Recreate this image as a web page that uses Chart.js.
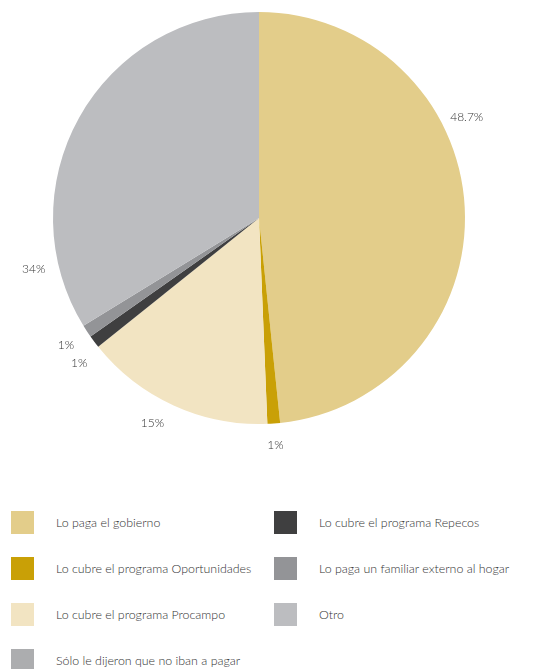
<!DOCTYPE html>
<html>
<head>
<meta charset="utf-8">
<script src="https://cdn.jsdelivr.net/npm/chart.js@4.4.0/dist/chart.umd.min.js"></script>
<style>
  body { margin: 0; background: #fff; font-family: Lato, "Open Sans", sans-serif; }
  #wrap { position: relative; width: 547px; height: 669px; }
  #pie { position: absolute; left: 0; top: 0; }
  #legend {
    position: absolute; left: 11px; top: 511px;
    display: grid; grid-auto-flow: column;
    grid-template-rows: repeat(4, 46px);
    grid-template-columns: 263px 260px;
  }
  .item { display: flex; align-items: flex-start; height: 46px; }
  .box { width: 23px; height: 23px; flex: none; }
  .txt { margin-left: 22px; font-size: 12.4px; font-weight: 300; color: #333; line-height: 23px; white-space: nowrap; }
</style>
</head>
<body>
<div id="wrap">
  <canvas id="pie" width="547" height="470"></canvas>
  <div id="legend"></div>
</div>
<script>
var labels = [
  'Lo paga el gobierno',
  'Lo cubre el programa Oportunidades',
  'Lo cubre el programa Procampo',
  'Sólo le dijeron que no iban a pagar',
  'Lo cubre el programa Repecos',
  'Lo paga un familiar externo al hogar',
  'Otro'
];
var values = [48.7, 1, 15, 0, 1, 1, 34];
var colors = ['#e3cd8a', '#c9a006', '#f2e4c2', '#acadaf', '#3f3f40', '#939497', '#bcbdc0'];
// angle nudges (degrees) for the outside labels, like the original layout
var labelShift = [-23, 0, 3, 0, -2, 0, -42];

var ctx = document.getElementById('pie').getContext('2d');

var outsideLabels = {
  id: 'outsideLabels',
  afterDatasetsDraw: function(chart) {
    var meta = chart.getDatasetMeta(0);
    var c = chart.ctx;
    c.save();
    c.font = '300 12px Lato, "Open Sans", sans-serif';
    c.fillStyle = '#333';
    c.textAlign = 'center';
    c.textBaseline = 'middle';
    meta.data.forEach(function(arc, i) {
      if (!values[i]) return;
      var a = (arc.startAngle + arc.endAngle) / 2 + labelShift[i] * Math.PI / 180;
      var r = arc.outerRadius + (i === 1 ? 22 : 25);
      c.fillText(values[i] + '%', arc.x + Math.cos(a) * r, arc.y + Math.sin(a) * r);
    });
    c.restore();
  }
};

var myChart = new Chart(ctx, {
  type: 'pie',
  data: {
    labels: labels,
    datasets: [{
      data: values,
      backgroundColor: colors,
      borderWidth: 0
    }]
  },
  options: {
    responsive: false,
    animation: false,
    layout: { padding: { top: 12, bottom: 46, left: 0, right: 29 } },
    plugins: {
      legend: { display: false },
      tooltip: { enabled: false }
    }
  },
  plugins: [outsideLabels]
});

// legend, two columns filled top to bottom
var legend = document.getElementById('legend');
labels.forEach(function(name, i) {
  var item = document.createElement('div');
  item.className = 'item';
  item.innerHTML = '<div class="box" style="background:' + colors[i] + '"></div><div class="txt">' + name + '</div>';
  legend.appendChild(item);
});
</script>
</body>
</html>
